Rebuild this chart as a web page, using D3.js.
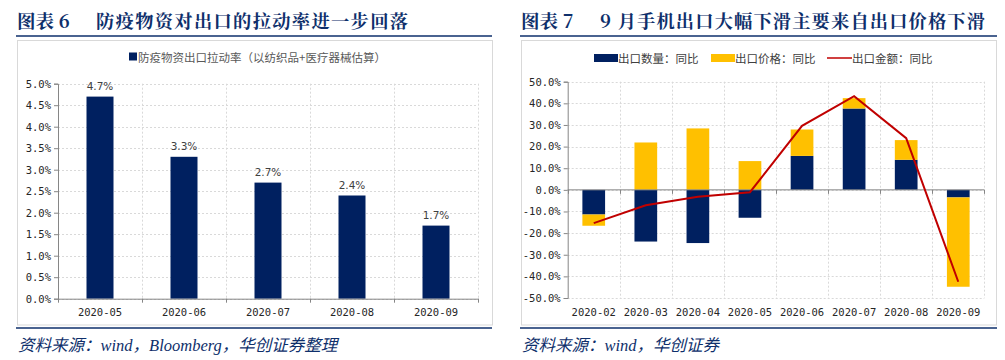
<!DOCTYPE html>
<html><head><meta charset="utf-8">
<script src="https://cdn.jsdelivr.net/npm/d3@7/dist/d3.min.js"></script>
<style>
body{margin:0;background:#fff;}
svg{display:block;}
</style></head>
<body>
<svg id="c" width="1005" height="360"></svg>
<script>
// ---- Data ----
const leftCategories = ["2020-05","2020-06","2020-07","2020-08","2020-09"];
const leftValues = [4.7, 3.3, 2.7, 2.4, 1.7];
const leftTicks = [0,0.5,1,1.5,2,2.5,3,3.5,4,4.5,5];
const leftLegend = "防疫物资出口拉动率（以纺织品+医疗器械估算）";

const rightCategories = ["2020-02","2020-03","2020-04","2020-05","2020-06","2020-07","2020-08","2020-09"];
const qtyValues = [-11.4, -23.9, -24.6, -12.9, 15.7, 37.6, 13.9, -3.5];
const priceValues = [-5.2, 21.9, 28.4, 13.3, 12.2, 4.8, 9.1, -41.3];
const amountValues = [-15.4, -7.1, -3.2, -1.1, 29.6, 43.3, 23.9, -42.5];
const rightTicks = [-50,-40,-30,-20,-10,0,10,20,30,40,50];
const rightLegend = ["出口数量：同比","出口价格：同比","出口金额：同比"];

const titleNums = ["图表 6","图表 7"];
const titles = ["防疫物资对出口的拉动率进一步回落","9 月手机出口大幅下滑主要来自出口价格下滑"];
const footers = ["资料来源：wind，Bloomberg，华创证券整理","资料来源：wind，华创证券"];

const NAVY = "#002060", GOLD = "#FFC000", RED = "#C00000", TITLEC = "#0e2f6b";
const svg = d3.select("#c");
const tickFont = "'DejaVu Sans Mono','Liberation Mono',monospace";
const cjk = "'Noto Sans CJK SC','Noto Sans',sans-serif";

// ---- Panel frames ----
const panels = [{x0:16,x1:492,bx0:17.5,bx1:492.5,tx:96,tw:312},{x0:520,x1:997,bx0:521.5,bx1:996.5,tx:600,tw:385}];
panels.forEach((p,i)=>{
  svg.append("text").attr("x",p.x0+1).attr("y",28).attr("fill",TITLEC)
    .attr("font-family","'Noto Serif CJK SC','Noto Sans CJK SC',serif").attr("font-weight","bold")
    .attr("font-size",18.5).text(titleNums[i]);
  svg.append("text").attr("x",p.tx).attr("y",28).attr("fill",TITLEC)
    .attr("font-family","'Noto Serif CJK SC','Noto Sans CJK SC',serif").attr("font-weight","bold")
    .attr("font-size",18.3).attr("textLength",p.tw).attr("lengthAdjust","spacing").text(titles[i]);
  svg.append("line").attr("x1",p.x0).attr("x2",p.x1).attr("y1",36).attr("y2",36)
    .attr("stroke",TITLEC).attr("stroke-width",1.5);
  svg.append("rect").attr("x",p.bx0).attr("y",40.5).attr("width",p.bx1-p.bx0).attr("height",284.5)
    .attr("fill","none").attr("stroke","#d9d9d9").attr("stroke-width",1);
  svg.append("line").attr("x1",p.x0).attr("x2",p.x1).attr("y1",328).attr("y2",328)
    .attr("stroke",TITLEC).attr("stroke-width",1.5);
  svg.append("text").attr("x",p.x0+2).attr("y",351).attr("fill",TITLEC)
    .attr("font-family","'Liberation Serif','Noto Sans CJK SC',serif").attr("font-style","italic")
    .attr("font-size",16.5).text(footers[i]);
});

function grid(g, x, y, ticks, plotL, plotR, plotT, plotB){
  g.selectAll(".hg").data(ticks).join("line")
    .attr("x1",plotL).attr("x2",plotR).attr("y1",d=>Math.round(y(d))+0.5).attr("y2",d=>Math.round(y(d))+0.5)
    .attr("stroke","#d9d9d9").attr("stroke-dasharray","2,2");
  const bounds = x.domain().map(d=>x(d)).concat([plotR]);
  g.selectAll(".vg").data(bounds.slice(1)).join("line")
    .attr("x1",d=>Math.round(d)+0.5).attr("x2",d=>Math.round(d)+0.5).attr("y1",plotT).attr("y2",plotB)
    .attr("stroke","#d9d9d9").attr("stroke-dasharray","2,2");
}

// ---- Left chart ----
{
  const plotL=58, plotR=478, plotT=83.7, plotB=298.7;
  const g = svg.append("g");
  const x = d3.scaleBand().domain(leftCategories).range([plotL,plotR]).paddingInner(0).paddingOuter(0);
  const y = d3.scaleLinear().domain([0,5]).range([plotB,plotT]);
  grid(g,x,y,leftTicks,plotL,plotR,plotT,plotB);
  const bw = 27;
  g.selectAll(".bar").data(leftValues).join("rect")
    .attr("x",(d,i)=>x(leftCategories[i])+x.bandwidth()/2-bw/2).attr("width",bw)
    .attr("y",d=>y(d)).attr("height",d=>y(0)-y(d)).attr("fill",NAVY);
  g.selectAll(".lbl").data(leftValues).join("text")
    .attr("x",(d,i)=>x(leftCategories[i])+x.bandwidth()/2).attr("y",d=>y(d)-7)
    .attr("text-anchor","middle").attr("font-family","'DejaVu Sans',sans-serif").attr("font-size",10.5)
    .attr("fill","#404040").text(d=>d.toFixed(1)+"%");
  const ya = g.append("g").attr("transform",`translate(${plotL},0)`)
    .call(d3.axisLeft(y).tickValues(leftTicks).tickFormat(d=>d.toFixed(1)+"%").tickSize(4));
  const xa = g.append("g").attr("transform",`translate(0,${plotB})`)
    .call(d3.axisBottom(x).tickSize(0).tickPadding(10));
  g.selectAll(".xt").data(leftCategories.map(d=>x(d)).concat([plotR])).join("line")
    .attr("x1",d=>Math.round(d)+0.5).attr("x2",d=>Math.round(d)+0.5).attr("y1",plotB).attr("y2",plotB+4)
    .attr("stroke","#868686");
  [ya,xa].forEach(a=>{a.select(".domain").attr("stroke","#868686");
    a.selectAll(".tick line").attr("stroke","#868686");
    a.selectAll("text").attr("font-family",tickFont).attr("font-size",10.5).attr("fill","#262626");});
  const lg = svg.append("g");
  lg.append("text").attr("x",138).attr("y",61.5).attr("font-family",cjk).attr("font-size",11.5)
    .attr("fill","#595959").text(leftLegend);
  lg.append("rect").attr("x",129).attr("y",52.5).attr("width",8).attr("height",8).attr("fill",NAVY);
}

// ---- Right chart ----
{
  const plotL=567.7, plotR=984.3, plotT=81.7, plotB=298;
  const g = svg.append("g");
  const x = d3.scaleBand().domain(rightCategories).range([plotL,plotR]).paddingInner(0).paddingOuter(0);
  const y = d3.scaleLinear().domain([-50,50]).range([plotB,plotT]);
  grid(g,x,y,rightTicks,plotL,plotR,plotT,plotB);
  const bw = 22.7;
  const cx = i=>x(rightCategories[i])+x.bandwidth()/2;
  g.selectAll(".q").data(qtyValues).join("rect")
    .attr("x",(d,i)=>cx(i)-bw/2).attr("width",bw)
    .attr("y",d=>y(Math.max(0,d))).attr("height",d=>Math.abs(y(d)-y(0))).attr("fill",NAVY);
  g.selectAll(".p").data(priceValues).join("rect")
    .attr("x",(d,i)=>cx(i)-bw/2).attr("width",bw)
    .attr("y",(d,i)=>{const q=qtyValues[i]; const base = (d>=0)?Math.max(0,q):Math.min(0,q);
        return d>=0 ? y(base+d) : y(base);})
    .attr("height",d=>Math.abs(y(d)-y(0))).attr("fill",GOLD);
  const ya = g.append("g").attr("transform",`translate(${plotL},0)`)
    .call(d3.axisLeft(y).tickValues(rightTicks).tickFormat(d=>d.toFixed(1)+"%").tickSize(4));
  g.append("line").attr("x1",plotL).attr("x2",plotR).attr("y1",y(0)).attr("y2",y(0))
    .attr("stroke","#868686");
  g.selectAll(".xt").data(rightCategories.map(d=>x(d)).concat([plotR])).join("line")
    .attr("x1",d=>Math.round(d)+0.5).attr("x2",d=>Math.round(d)+0.5).attr("y1",y(0)).attr("y2",y(0)+4)
    .attr("stroke","#868686");
  const xa = g.append("g").attr("transform",`translate(0,${plotB})`)
    .call(d3.axisBottom(x).tickSize(0).tickPadding(11));
  xa.select(".domain").remove();
  ya.select(".domain").attr("stroke","#868686");
  ya.selectAll(".tick line").attr("stroke","#868686");
  [ya,xa].forEach(a=>a.selectAll("text").attr("font-family",tickFont).attr("font-size",10.5).attr("fill","#262626"));
  const line = d3.line().x((d,i)=>cx(i)).y(d=>y(d));
  g.append("path").datum(amountValues).attr("d",line).attr("fill","none").attr("stroke",RED).attr("stroke-width",2);
  const lg = svg.append("g").attr("font-family",cjk).attr("font-size",11.5).attr("fill","#404040");
  lg.append("rect").attr("x",594).attr("y",54).attr("width",24).attr("height",8).attr("fill",NAVY);
  lg.append("text").attr("x",618).attr("y",62.5).text(rightLegend[0]);
  lg.append("rect").attr("x",711).attr("y",54).attr("width",24).attr("height",8).attr("fill",GOLD);
  lg.append("text").attr("x",735).attr("y",62.5).text(rightLegend[1]);
  lg.append("line").attr("x1",827).attr("x2",852).attr("y1",58).attr("y2",58).attr("stroke",RED).attr("stroke-width",1.5);
  lg.append("text").attr("x",852).attr("y",62.5).text(rightLegend[2]);
}
</script>
</body></html>
